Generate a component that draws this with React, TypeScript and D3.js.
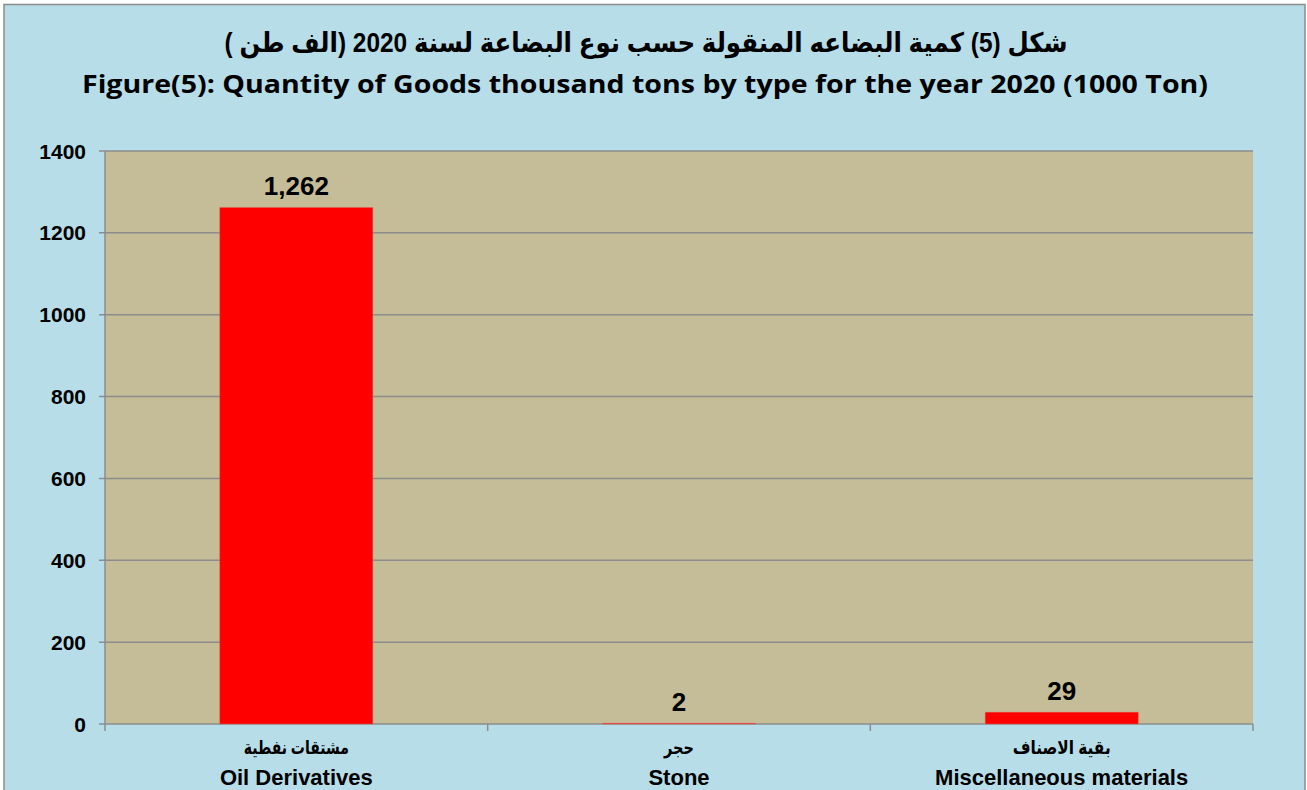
import React from "react";
import * as d3 from "d3";

const categoriesAr = ["مشتقات نفطية", "حجر", "بقية الاصناف"];
const categoriesEn = ["Oil Derivatives", "Stone", "Miscellaneous materials"];
const values = [1262, 2, 29];
const yTicks = [0, 200, 400, 600, 800, 1000, 1200, 1400];

const titleAr = "شكل (5) كمية البضاعه المنقولة حسب نوع البضاعة لسنة 2020 (الف طن )";
const titleEn = "Figure(5): Quantity of Goods thousand tons by type for the year 2020 (1000 Ton)";

const W = 1307;
const H = 790;
const plot = { left: 105, right: 1253, top: 151, bottom: 724 };
const font = "Arial, 'Liberation Sans', 'DejaVu Sans', sans-serif";
// widths of the arabic labels in the reference, used to squeeze DejaVu's arabic glyphs
const arWidths = [105, 30, 98];

const App = () => {
  const x = d3
    .scaleBand<number>()
    .domain(d3.range(values.length))
    .range([plot.left, plot.right])
    .paddingInner(0.6)
    .paddingOuter(0.3);

  const y = d3.scaleLinear().domain([0, 1400]).range([plot.bottom, plot.top]);
  const step = (plot.right - plot.left) / values.length;
  const fmt = d3.format(",");

  return (
    <div>
      <style>{`body{margin:0}`}</style>
      <svg width={W} height={H} style={{ display: "block" }}>
        <rect x={0} y={0} width={W} height={H} fill="#ffffff" />
        <rect x={4} y={4.5} width={W - 6} height={H + 10} fill="#B7DDE8" stroke="#8c8c8c" strokeWidth={1.5} />

        {/* titles */}
        <text
          x={646}
          y={52}
          textAnchor="middle"
          fontFamily={font}
          fontWeight="bold"
          fontSize={27}
          fill="#000"
          direction="rtl"
          textLength={843}
          lengthAdjust="spacingAndGlyphs"
        >
          {titleAr}
        </text>
        <text
          x={645}
          y={93}
          textAnchor="middle"
          fontFamily="'Open Sans', Lato, sans-serif"
          fontWeight="bold"
          fontSize={25}
          fill="#000"
          textLength={1126}
          lengthAdjust="spacingAndGlyphs"
        >
          {titleEn}
        </text>

        {/* plot area */}
        <rect x={plot.left} y={plot.top} width={plot.right - plot.left} height={plot.bottom - plot.top} fill="#C4BD97" />

        {/* grid + y axis */}
        {yTicks.map((t) => (
          <g key={t}>
            <line x1={99} x2={plot.right} y1={y(t)} y2={y(t)} stroke="#8c8c8c" strokeWidth={1.5} />
            <text x={86} y={y(t)} dy="0.36em" textAnchor="end" fontFamily={font} fontWeight="bold" fontSize={21} fill="#000">
              {t}
            </text>
          </g>
        ))}
        <line x1={plot.left} x2={plot.left} y1={plot.top} y2={plot.bottom} stroke="#8c8c8c" strokeWidth={1.5} />

        {/* x axis ticks */}
        {d3.range(values.length + 1).map((i) => (
          <line key={i} x1={plot.left + i * step} x2={plot.left + i * step} y1={plot.bottom} y2={731} stroke="#8c8c8c" strokeWidth={1.5} />
        ))}

        {/* bars */}
        {values.map((v, i) => (
          <g key={i}>
            <rect x={x(i)} y={y(v)} width={x.bandwidth()} height={plot.bottom - y(v)} fill="#FF0000" stroke="#d9695a" strokeWidth={0.5} />
            <text
              x={x(i)! + x.bandwidth() / 2}
              y={y(v) - 12}
              textAnchor="middle"
              fontFamily={font}
              fontWeight="bold"
              fontSize={26}
              fill="#000"
            >
              {fmt(v)}
            </text>
          </g>
        ))}

        {/* category labels */}
        {categoriesEn.map((c, i) => {
          const cx = x(i)! + x.bandwidth() / 2;
          return (
            <g key={c}>
              <text
                x={cx}
                y={754}
                textAnchor="middle"
                fontFamily={font}
                fontWeight="bold"
                fontSize={19}
                fill="#000"
                direction="rtl"
                textLength={arWidths[i]}
                lengthAdjust="spacingAndGlyphs"
              >
                {categoriesAr[i]}
              </text>
              <text x={cx} y={785} textAnchor="middle" fontFamily={font} fontWeight="bold" fontSize={22} fill="#000">
                {c}
              </text>
            </g>
          );
        })}
      </svg>
    </div>
  );
};

export default App;
